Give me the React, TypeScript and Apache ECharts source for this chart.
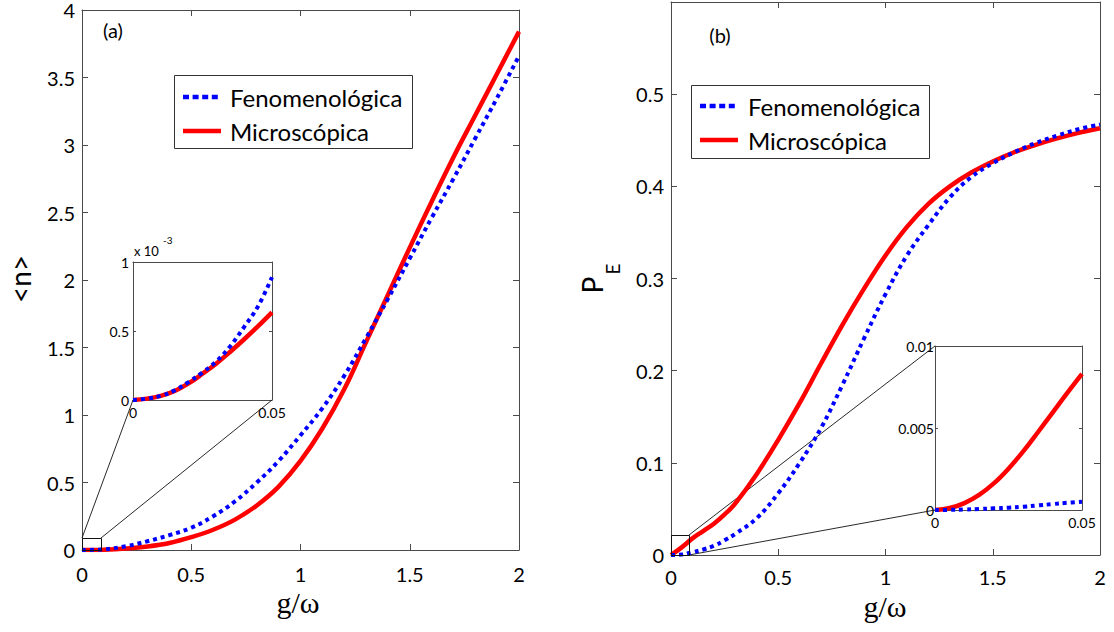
import React, { useEffect, useRef } from "react";
import * as echarts from "echarts";

// ---- data: panel (a) mean photon number <n> vs g/ω ----
const G_A = [0, 0.1, 0.2, 0.3, 0.4, 0.5, 0.6, 0.7, 0.8, 0.9, 1.0, 1.1, 1.2, 1.3, 1.4, 1.5, 1.6, 1.7, 1.8, 1.9, 2.0];
const N_FENO = [0, 0.005, 0.028, 0.065, 0.11, 0.165, 0.25, 0.36, 0.5, 0.66, 0.85, 1.05, 1.29, 1.57, 1.86, 2.16, 2.46, 2.75, 3.05, 3.35, 3.66];
const N_MICRO = [0, 0.0027, 0.011, 0.026, 0.052, 0.095, 0.15, 0.225, 0.33, 0.47, 0.66, 0.9, 1.19, 1.54, 1.89, 2.24, 2.58, 2.91, 3.22, 3.53, 3.84];

// inset (a), values in units of 10^-3
const G_INSET = [0, 0.005, 0.01, 0.015, 0.02, 0.025, 0.03, 0.035, 0.04, 0.045, 0.05];
const NI_FENO = [0, 0.01, 0.03, 0.07, 0.13, 0.2, 0.28, 0.39, 0.53, 0.68, 0.89];
const NI_MICRO = [0, 0.01, 0.03, 0.065, 0.12, 0.19, 0.265, 0.35, 0.44, 0.535, 0.635];

// ---- data: panel (b) excited-state population P_E vs g/ω ----
const G_B = [0, 0.05, 0.1, 0.15, 0.2, 0.25, 0.3, 0.4, 0.5, 0.6, 0.7, 0.8, 0.9, 1.0, 1.1, 1.2, 1.3, 1.4, 1.5, 1.6, 1.7, 1.8, 1.9, 2.0];
const P_FENO = [0, 0.0005, 0.003, 0.006, 0.01, 0.016, 0.023, 0.04, 0.067, 0.1, 0.138, 0.185, 0.235, 0.283, 0.325, 0.358, 0.388, 0.41, 0.425, 0.437, 0.447, 0.455, 0.462, 0.467];
const P_MICRO = [0, 0.0083, 0.018, 0.026, 0.034, 0.044, 0.056, 0.088, 0.125, 0.165, 0.208, 0.25, 0.289, 0.325, 0.356, 0.381, 0.4, 0.415, 0.427, 0.437, 0.445, 0.452, 0.458, 0.463];

// inset (b)
const PI_FENO = [0, 0.00001, 0.00003, 0.00006, 0.0001, 0.00014, 0.0002, 0.00028, 0.00036, 0.00044, 0.0005];
const PI_MICRO = [0, 0.00012, 0.00042, 0.00092, 0.00162, 0.00252, 0.00357, 0.00474, 0.00594, 0.00714, 0.0083];

const SERIES_NAMES = ["Fenomenológica", "Microscópica"];

// ---- layout & style ----
const MAIN_A = { left: 82, top: 2, width: 437, height: 548 };
const INSET_A = { left: 133, top: 262, width: 139, height: 138 };
const MAIN_B = { left: 671, top: 2, width: 429, height: 553 };
const INSET_B = { left: 935, top: 346, width: 147, height: 164 };

const FONT = "Lato, 'Open Sans', sans-serif";
const SERIF = "'Liberation Serif', 'DejaVu Serif', serif";
const BLUE = "#0000ff";
const RED = "#ff0000";
const AXIS = "#4a4a4a";
const DOTS = [4, 4];

const pairs = (xs: number[], ys: number[]) => xs.map((x, i) => [x, ys[i]]);

type AxisOpts = {
  xMin: number; xMax: number; xInt: number;
  yMin: number; yMax: number; yInt: number;
  fontSize: number; tickLen: number; xMargin: number; yMargin: number;
  hideYMax?: boolean;
};

// four-sided box of axes, ticks pointing inwards on every side
function boxAxes(gridIndex: number, o: AxisOpts) {
  const line = { show: true, onZero: false, lineStyle: { color: AXIS, width: 1 } };
  const tick = { show: true, inside: true, length: o.tickLen, lineStyle: { color: AXIS, width: 1 } };
  const label = (margin: number) => ({
    show: true, margin, fontSize: o.fontSize, fontFamily: FONT, color: "#000",
  });
  const x = {
    type: "value", gridIndex, min: o.xMin, max: o.xMax, interval: o.xInt,
    axisLine: line, axisTick: tick, splitLine: { show: false },
  };
  const y = {
    type: "value", gridIndex, min: o.yMin, max: o.yMax, interval: o.yInt,
    axisLine: line, axisTick: tick, splitLine: { show: false },
  };
  return {
    xAxes: [
      { ...x, position: "bottom", axisLabel: label(o.xMargin) },
      { ...x, position: "top", axisLabel: { show: false } },
    ],
    yAxes: [
      { ...y, position: "left", axisLabel: { ...label(o.yMargin), showMaxLabel: !o.hideYMax } },
      { ...y, position: "right", axisLabel: { show: false } },
    ],
  };
}

function curve(name: string, axisIdx: number, data: number[][], dotted: boolean) {
  return {
    name, type: "line", xAxisIndex: axisIdx, yAxisIndex: axisIdx, data,
    symbol: "none", showSymbol: false, smooth: 0.4,
    z: dotted ? 4 : 3,
    lineStyle: dotted
      ? { color: BLUE, width: 4, type: DOTS, cap: "butt" }
      : { color: RED, width: 4.5, type: "solid" },
    itemStyle: { color: dotted ? BLUE : RED },
  };
}

// boxed legend: frame, line samples and entry names
function legendBox(x: number, y: number, w: number, h: number, rowY: number[], sx: number, tx: number) {
  return [
    { type: "rect", z: 20, shape: { x: x + 0.5, y: y + 0.5, width: w, height: h }, style: { fill: "#fff", stroke: "#333", lineWidth: 1 } },
    { type: "line", z: 21, shape: { x1: sx, y1: rowY[0], x2: sx + 38, y2: rowY[0] }, style: { stroke: BLUE, lineWidth: 4.5, lineDash: [6, 3.6] } },
    { type: "line", z: 21, shape: { x1: sx, y1: rowY[1], x2: sx + 38, y2: rowY[1] }, style: { stroke: RED, lineWidth: 4.5 } },
    { type: "text", z: 21, x: tx, y: rowY[0], style: { text: SERIES_NAMES[0], fontSize: 24, fontFamily: FONT, fill: "#000", align: "left", verticalAlign: "middle" } },
    { type: "text", z: 21, x: tx, y: rowY[1], style: { text: SERIES_NAMES[1], fontSize: 24, fontFamily: FONT, fill: "#000", align: "left", verticalAlign: "middle" } },
  ];
}

function buildOption() {
  const a = boxAxes(0, { xMin: 0, xMax: 2, xInt: 0.5, yMin: 0, yMax: 4, yInt: 0.5, fontSize: 20, tickLen: 6, xMargin: 14, yMargin: 7 });
  const ai = boxAxes(1, { xMin: 0, xMax: 0.05, xInt: 0.05, yMin: 0, yMax: 1, yInt: 0.5, fontSize: 14, tickLen: 3, xMargin: 5, yMargin: 4 });
  const b = boxAxes(2, { xMin: 0, xMax: 2, xInt: 0.5, yMin: 0, yMax: 0.6, yInt: 0.1, fontSize: 20, tickLen: 6, xMargin: 12, yMargin: 7, hideYMax: true });
  const bi = boxAxes(3, { xMin: 0, xMax: 0.05, xInt: 0.05, yMin: 0, yMax: 0.01, yInt: 0.005, fontSize: 14, tickLen: 3, xMargin: 5, yMargin: 1 });

  const xAxis = [...a.xAxes, ...ai.xAxes, ...b.xAxes, ...bi.xAxes];
  const yAxis = [...a.yAxes, ...ai.yAxes, ...b.yAxes, ...bi.yAxes];

  // zoom-box markers and connector lines
  const zoomA = { x: MAIN_A.left, y: MAIN_A.top + MAIN_A.height - 12, w: 19, h: 12 };
  const zoomB = { x: MAIN_B.left, y: MAIN_B.top + MAIN_B.height - 20, w: 18, h: 20 };
  const thin = { stroke: "#111", lineWidth: 0.9 };

  const graphic: any[] = [
    { type: "rect", z: 5, shape: { x: zoomA.x + 0.5, y: zoomA.y + 0.5, width: zoomA.w, height: zoomA.h }, style: { fill: "none", stroke: "#111", lineWidth: 1 } },
    { type: "line", z: 1, shape: { x1: zoomA.x, y1: zoomA.y, x2: INSET_A.left, y2: INSET_A.top + INSET_A.height }, style: thin },
    { type: "line", z: 1, shape: { x1: zoomA.x + zoomA.w, y1: zoomA.y, x2: INSET_A.left + INSET_A.width, y2: INSET_A.top + INSET_A.height }, style: thin },
    { type: "rect", z: 5, shape: { x: zoomB.x + 0.5, y: zoomB.y + 0.5, width: zoomB.w, height: zoomB.h }, style: { fill: "none", stroke: "#111", lineWidth: 1 } },
    { type: "line", z: 1, shape: { x1: zoomB.x + zoomB.w, y1: zoomB.y, x2: INSET_B.left, y2: INSET_B.top }, style: thin },
    { type: "line", z: 1, shape: { x1: zoomB.x + zoomB.w, y1: zoomB.y + zoomB.h, x2: INSET_B.left, y2: INSET_B.top + INSET_B.height }, style: thin },

    ...legendBox(174, 75, 238, 73, [97, 131], 183, 230),
    ...legendBox(691, 85, 238, 73, [106, 140], 700, 748),

    // panel tags
    { type: "text", z: 10, x: 113, y: 30, style: { text: "(a)", fontSize: 20, fontFamily: FONT, fill: "#000", align: "center", verticalAlign: "middle" } },
    { type: "text", z: 10, x: 720, y: 35, style: { text: "(b)", fontSize: 20, fontFamily: FONT, fill: "#000", align: "center", verticalAlign: "middle" } },

    // axis titles
    { type: "text", z: 10, x: 298, y: 602, style: { text: "g/ω", fontSize: 30, fontFamily: SERIF, fill: "#000", align: "center", verticalAlign: "middle" } },
    { type: "text", z: 10, x: 885, y: 606, style: { text: "g/ω", fontSize: 30, fontFamily: SERIF, fill: "#000", align: "center", verticalAlign: "middle" } },
    { type: "text", z: 10, x: 20, y: 279, rotation: Math.PI / 2, style: { text: "<n>", fontSize: 28, fontFamily: FONT, fill: "#000", align: "center", verticalAlign: "middle" } },
    { type: "text", z: 10, x: 592, y: 285, rotation: Math.PI / 2, style: { text: "P", fontSize: 28, fontFamily: FONT, fill: "#000", align: "center", verticalAlign: "middle" } },
    { type: "text", z: 10, x: 612, y: 269, rotation: Math.PI / 2, style: { text: "E", fontSize: 19, fontFamily: FONT, fill: "#000", align: "center", verticalAlign: "middle" } },

    // inset (a) exponent
    { type: "text", z: 10, x: 134, y: 251, style: { text: "x 10", fontSize: 13, fontFamily: FONT, fill: "#000", align: "left", verticalAlign: "middle" } },
    { type: "text", z: 10, x: 163, y: 240, style: { text: "-3", fontSize: 10, fontFamily: FONT, fill: "#000", align: "left", verticalAlign: "middle" } },
  ];

  return {
    animation: false,
    backgroundColor: "#fff",
    grid: [
      { ...MAIN_A, containLabel: false },
      { ...INSET_A, containLabel: false, show: true, backgroundColor: "#fff", borderWidth: 0 },
      { ...MAIN_B, containLabel: false },
      { ...INSET_B, containLabel: false, show: true, backgroundColor: "#fff", borderWidth: 0 },
    ],
    xAxis,
    yAxis,
    series: [
      curve(SERIES_NAMES[0], 0, pairs(G_A, N_FENO), true),
      curve(SERIES_NAMES[1], 0, pairs(G_A, N_MICRO), false),
      curve(SERIES_NAMES[0], 2, pairs(G_INSET, NI_FENO), true),
      curve(SERIES_NAMES[1], 2, pairs(G_INSET, NI_MICRO), false),
      curve(SERIES_NAMES[0], 4, pairs(G_B, P_FENO), true),
      curve(SERIES_NAMES[1], 4, pairs(G_B, P_MICRO), false),
      curve(SERIES_NAMES[0], 6, pairs(G_INSET, PI_FENO), true),
      curve(SERIES_NAMES[1], 6, pairs(G_INSET, PI_MICRO), false),
    ],
    graphic,
  };
}

export default function App() {
  const ref = useRef<HTMLDivElement>(null);

  useEffect(() => {
    document.body.style.margin = "0";
    if (!ref.current) return;
    const chart = echarts.init(ref.current, undefined, { renderer: "svg" });
    chart.setOption(buildOption() as any);
    return () => chart.dispose();
  }, []);

  return <div ref={ref} style={{ width: 1114, height: 632 }} />;
}
